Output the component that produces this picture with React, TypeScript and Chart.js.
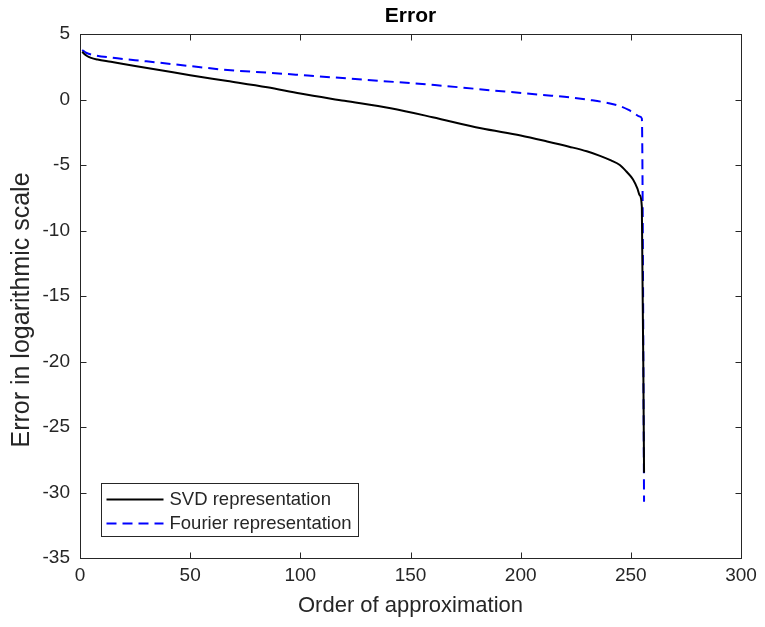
import React, { useEffect, useRef } from "react";
import { Chart, registerables } from "chart.js";

Chart.register(...registerables);

// ---- data ----
const chartTitle = "Error";
const xTitle = "Order of approximation";
const yTitle = "Error in logarithmic scale";
const seriesNames = ["SVD representation", "Fourier representation"];

const svdOrder = [1, 2, 3, 5, 8, 14, 25, 36, 50, 67, 85, 100, 120, 141, 160, 182, 200, 212, 222, 230, 236, 241, 245, 248, 251, 253, 254, 255, 256];
const svdError = [3.65, 3.47, 3.34, 3.18, 3.05, 2.88, 2.55, 2.25, 1.85, 1.41, 0.93, 0.45, -0.1, -0.67, -1.35, -2.2, -2.75, -3.2, -3.6, -3.95, -4.3, -4.65, -5.0, -5.5, -6.1, -6.8, -7.3, -8.2, -28.5];

const fourierOrder = [1, 3, 6, 14, 25, 36, 50, 67, 85, 100, 130, 161, 190, 210, 222, 232, 240, 245, 249, 252, 254, 255, 256];
const fourierError = [3.78, 3.55, 3.4, 3.2, 3.0, 2.81, 2.55, 2.25, 2.05, 1.87, 1.5, 1.1, 0.65, 0.35, 0.17, -0.05, -0.28, -0.5, -0.8, -1.1, -1.3, -1.45, -30.7];

const xTicks = [0, 50, 100, 150, 200, 250, 300];
const yTicks = [-35, -30, -25, -20, -15, -10, -5, 0, 5];

const FONT = "'Liberation Sans', Arial, Helvetica, sans-serif";
const AXIS_COLOR = "#262626";
const SVD_COLOR = "#000000";
const FOURIER_COLOR = "#0000ff";
const DASH = [10, 6];

const boxPlugin = {
  id: "matlabBox",
  afterDatasetsDraw(chart: any) {
    const { ctx, chartArea } = chart;
    const xs = chart.scales.x;
    const ys = chart.scales.y;
    const L = Math.round(chartArea.left) + 0.5;
    const R = Math.round(chartArea.right) + 0.5;
    const T = Math.round(chartArea.top) + 0.5;
    const B = Math.round(chartArea.bottom) + 0.5;
    ctx.save();
    ctx.strokeStyle = AXIS_COLOR;
    ctx.lineWidth = 1;
    ctx.setLineDash([]);
    ctx.strokeRect(L, T, R - L, B - T);
    const tl = 6;
    ctx.beginPath();
    xTicks.forEach((v) => {
      const px = Math.round(xs.getPixelForValue(v)) + 0.5;
      ctx.moveTo(px, B);
      ctx.lineTo(px, B - tl);
      ctx.moveTo(px, T);
      ctx.lineTo(px, T + tl);
    });
    yTicks.forEach((v) => {
      const py = Math.round(ys.getPixelForValue(v)) + 0.5;
      ctx.moveTo(L, py);
      ctx.lineTo(L + tl, py);
      ctx.moveTo(R, py);
      ctx.lineTo(R - tl, py);
    });
    ctx.stroke();

    // title centred over the plot box
    ctx.fillStyle = "#000000";
    ctx.font = `bold 21px ${FONT}`;
    ctx.textAlign = "center";
    ctx.textBaseline = "middle";
    ctx.fillText(chartTitle, (chartArea.left + chartArea.right) / 2, chartArea.top - 18);

    // y axis title
    ctx.save();
    ctx.translate(22, (chartArea.top + chartArea.bottom) / 2 + 14);
    ctx.rotate(-Math.PI / 2);
    ctx.fillStyle = AXIS_COLOR;
    ctx.font = `25px ${FONT}`;
    ctx.fillText(yTitle, 0, 0);
    ctx.restore();

    // legend
    const bx = Math.round(chartArea.left + 21) + 0.5;
    const by = Math.round(chartArea.bottom - 75) + 0.5;
    const bw = 257;
    const bh = 53;
    ctx.fillStyle = "#ffffff";
    ctx.fillRect(bx, by, bw, bh);
    ctx.strokeStyle = AXIS_COLOR;
    ctx.strokeRect(bx, by, bw, bh);
    const rows = [
      { y: by + 16, color: SVD_COLOR, dash: [] as number[] },
      { y: by + 40, color: FOURIER_COLOR, dash: DASH },
    ];
    chart.data.datasets.forEach((ds: any, i: number) => {
      const r = rows[i];
      ctx.beginPath();
      ctx.strokeStyle = r.color;
      ctx.lineWidth = 2;
      ctx.setLineDash(r.dash);
      ctx.moveTo(bx + 5, r.y);
      ctx.lineTo(bx + 62, r.y);
      ctx.stroke();
      ctx.setLineDash([]);
      ctx.fillStyle = AXIS_COLOR;
      ctx.font = `18.5px ${FONT}`;
      ctx.textBaseline = "middle";
      ctx.textAlign = "left";
      ctx.fillText(ds.label, bx + 68, r.y);
    });
    ctx.restore();
  },
};

export default function App() {
  const ref = useRef<HTMLCanvasElement | null>(null);
  useEffect(() => {
    if (!ref.current) return;
    const chart = new Chart(ref.current, {
      type: "line",
      data: {
        datasets: [
          {
            label: seriesNames[0],
            data: svdOrder.map((x, i) => ({ x, y: svdError[i] })),
            borderColor: SVD_COLOR,
            borderWidth: 2,
            pointRadius: 0,
            cubicInterpolationMode: "monotone",
            fill: false,
          },
          {
            label: seriesNames[1],
            data: fourierOrder.map((x, i) => ({ x, y: fourierError[i] })),
            borderColor: FOURIER_COLOR,
            borderWidth: 2,
            borderDash: DASH,
            pointRadius: 0,
            cubicInterpolationMode: "monotone",
            fill: false,
          },
        ],
      },
      options: {
        animation: false,
        responsive: false,
        maintainAspectRatio: false,
        layout: { padding: { left: 0, right: 24, top: 34, bottom: 0 } },
        plugins: {
          legend: { display: false },
          tooltip: { enabled: false },
          title: { display: false },
        },
        scales: {
          x: {
            type: "linear",
            min: 0,
            max: 300,
            afterFit: (s: any) => {
              s.height = 69;
            },
            afterBuildTicks: (s: any) => {
              s.ticks = xTicks.map((v) => ({ value: v }));
            },
            grid: { display: false, drawTicks: false },
            border: { display: false },
            ticks: {
              color: AXIS_COLOR,
              font: { family: FONT, size: 19 },
              padding: 6,
              maxRotation: 0,
            },
            title: {
              display: true,
              text: xTitle,
              color: AXIS_COLOR,
              font: { family: FONT, size: 22, lineHeight: 1.2 },
              padding: { top: 0, bottom: 8 },
            },
          },
          y: {
            type: "linear",
            min: -35,
            max: 5,
            afterFit: (s: any) => {
              s.width = 80;
            },
            afterBuildTicks: (s: any) => {
              s.ticks = yTicks.map((v) => ({ value: v }));
            },
            grid: { display: false, drawTicks: false },
            border: { display: false },
            ticks: {
              color: AXIS_COLOR,
              font: { family: FONT, size: 19 },
              padding: 10,
            },
            title: { display: false, text: yTitle },
          },
        },
      },
      plugins: [boxPlugin],
    });
    return () => chart.destroy();
  }, []);
  return (
    <div style={{ position: "fixed", left: 0, top: 0, width: 765, height: 627, background: "#ffffff" }}>
      <canvas ref={ref} width={765} height={627} />
    </div>
  );
}
